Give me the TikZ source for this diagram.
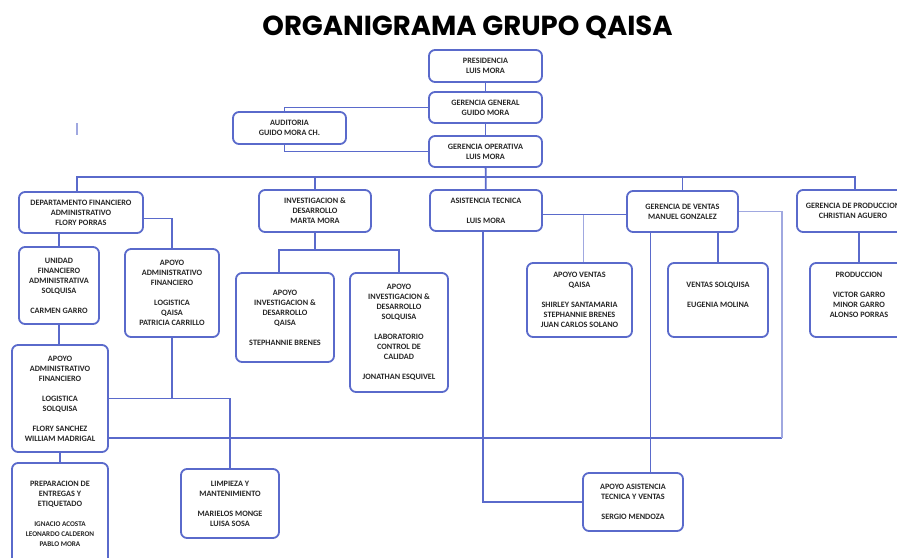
\documentclass[tikz,border=0pt]{standalone}
\usepackage{fontspec}
\setmainfont{Carlito}
\newfontfamily\titulo{Poppins}
\usepackage{tikz}
\usetikzlibrary{calc}
\definecolor{azulLinea}{RGB}{90,106,203}
\definecolor{azulClaro}{RGB}{160,168,224}
\newcommand*{\nombres}[1]{{\fontsize{7.2}{9.5}\selectfont #1}}% kleinere Namen

\begin{document}
\begin{tikzpicture}[
		x=1pt,
		y=-1pt,
		caja/.style={draw=azulLinea, line width=1.8pt, rounded corners=6pt, fill=white,
			align=center, inner sep=0pt, text=black!85,
			font=\fontsize{8.2}{10}\selectfont\bfseries},
		tam/.style 2 args={minimum width=#1, minimum height=#2},
		linea/.style={draw=azulLinea, line width=1.8pt},
		lineaClara/.style={draw=azulClaro, line width=1.4pt}
	]
		\useasboundingbox (0,0) rectangle (897,557);
		\clip (0,0) rectangle (897,557);

		\node[font=\titulo\bfseries\fontsize{27.5}{30}\selectfont, text=black] (titulo) at (467.5,27) {ORGANIGRAMA GRUPO QAISA};

		% oben
		\node[caja, tam={113}{32}] (pres) at (485.5,66) {PRESIDENCIA\\LUIS MORA};
		\node[caja, tam={113}{31}] (gg) at (485.5,107.5) {GERENCIA GENERAL\\GUIDO MORA};
		\node[caja, tam={113}{31}] (go) at (485.5,151.5) {GERENCIA OPERATIVA\\LUIS MORA};
		\node[caja, tam={113}{32}] (aud) at (289.5,128) {AUDITORIA\\GUIDO MORA CH.};

		% zweite Reihe
		\node[caja, tam={124}{41}] (dept) at (81,212.5) {DEPARTAMENTO FINANCIERO\\ADMINISTRATIVO\\FLORY PORRAS};
		\node[caja, tam={112}{42}] (inv) at (315,211) {INVESTIGACION \&\\DESARROLLO\\MARTA MORA};
		\node[caja, tam={112}{41}] (asis) at (486,210.5) {ASISTENCIA TECNICA\\[10pt]LUIS MORA};
		\node[caja, tam={111}{41}] (gv) at (682.5,211.5) {GERENCIA DE VENTAS\\MANUEL GONZALEZ};
		\node[caja, tam={112}{42}] (gp) at (853,211) {GERENCIA DE PRODUCCION\\CHRISTIAN AGUERO};

		% Finanzen
		\node[caja, tam={80}{77}] (unid) at (59,285.5) {UNIDAD\\FINANCIERO\\ADMINISTRATIVA\\SOLQUISA\\[10pt]CARMEN GARRO};
		\node[caja, tam={94}{88}] (apadm) at (172,293) {APOYO\\ADMINISTRATIVO\\FINANCIERO\\[10pt]LOGISTICA\\QAISA\\PATRICIA CARRILLO};
		\node[caja, tam={96}{107}] (apadm2) at (60,398.5) {APOYO\\ADMINISTRATIVO\\FINANCIERO\\[10pt]LOGISTICA\\SOLQUISA\\[10pt]FLORY SANCHEZ\\WILLIAM MADRIGAL};
		\node[caja, tam={96}{102}] (prep) at (60,514) {PREPARACION DE\\ENTREGAS Y\\ETIQUETADO\\[10pt]\nombres{IGNACIO ACOSTA}\\\nombres{LEONARDO CALDERON}\\\nombres{PABLO MORA}};
		\node[caja, tam={98}{69}] (limp) at (230,503.5) {LIMPIEZA Y\\MANTENIMIENTO\\[10pt]MARIELOS MONGE\\LUISA SOSA};

		% Investigacion
		\node[caja, tam={98}{89}] (apinvq) at (285,317.5) {APOYO\\INVESTIGACION \&\\DESARROLLO\\QAISA\\[10pt]STEPHANNIE BRENES};
		\node[caja, tam={98}{119}] (apinvs) at (399,332.5) {APOYO\\INVESTIGACION \&\\DESARROLLO\\SOLQUISA\\[10pt]LABORATORIO\\CONTROL DE\\CALIDAD\\[10pt]JONATHAN ESQUIVEL};

		% Ventas, Produccion
		\node[caja, tam={105}{74}] (apven) at (579.5,300) {APOYO VENTAS\\QAISA\\[10pt]SHIRLEY SANTAMARIA\\STEPHANNIE BRENES\\JUAN CARLOS SOLANO};
		\node[caja, tam={100}{74}] (vsol) at (718,300) {VENTAS SOLQUISA\\[10pt]EUGENIA MOLINA\\\mbox{}};
		\node[caja, tam={98}{74}] (prod) at (859,300) {PRODUCCION\\[10pt]VICTOR GARRO\\MINOR GARRO\\ALONSO PORRAS\\\mbox{}};
		\node[caja, tam={100}{58}] (apasis) at (633,502) {APOYO ASISTENCIA\\TECNICA Y VENTAS\\[10pt]SERGIO MENDOZA};

		% Verbindungen
		\coordinate (bus) at (485.5,177);
		\coordinate (abajo) at (0,438);
		\draw[linea] (pres) -- (gg);
		\draw[linea] (gg) -- (go);
		\draw[linea] (gg.west) -| ([xshift=-5pt]aud.north);
		\draw[linea] ([xshift=-5pt]aud.south) |- (go.west);
		\draw[linea] (go) -- (asis);
		\draw[linea] ([xshift=-4pt]dept.north) |- (bus) -| ([xshift=2pt]gp.north);
		\draw[linea] (inv) -- (inv |- bus);
		\draw[linea] (gv) -- (gv |- bus);

		\draw[linea] (unid.north) -- (unid.north |- dept.south);
		\draw[linea] ([yshift=-6pt]dept.east) -| (apadm);
		\draw[linea] (unid.south) -- (unid.south |- apadm2.north);
		\draw[linea] (apadm) -- (apadm |- apadm2.east);
		\draw[linea] (apadm2.east) -| (limp);
		\draw[linea] (apadm2.south) -- (apadm2.south |- prep.north);
		\draw[linea] (apadm2.east |- abajo) -- ++(673,0) coordinate (esq);
		\draw[lineaClara] (esq) |- (gv.east);

		\draw[linea] (inv.south) -- ++(0,17) coordinate (invBus) -| ([xshift=-6pt]apinvq.north);
		\draw[linea] (invBus) -| (apinvs.north);

		\draw[linea] ([yshift=-4pt]asis.east) coordinate (asisD) -- (asisD -| gv.west);
		\draw[lineaClara] ([xshift=4pt]apven.north) -- ([xshift=4pt]apven.north |- asisD);
		\draw[linea] ([xshift=-3pt]asis.south) |- (apasis.west);
		\draw[linea] ([xshift=-32pt]gv.south) -- ([xshift=-32pt]gv.south |- apasis.north);
		\draw[linea] (vsol) -- (vsol |- gv.south);
		\draw[linea] (prod) -- (prod |- gp.south);

		\draw[lineaClara] (77,123) -- (77,135);
%		\draw[help lines] (0,0) grid[step=50] (897,557);
	\end{tikzpicture}
\end{document}
